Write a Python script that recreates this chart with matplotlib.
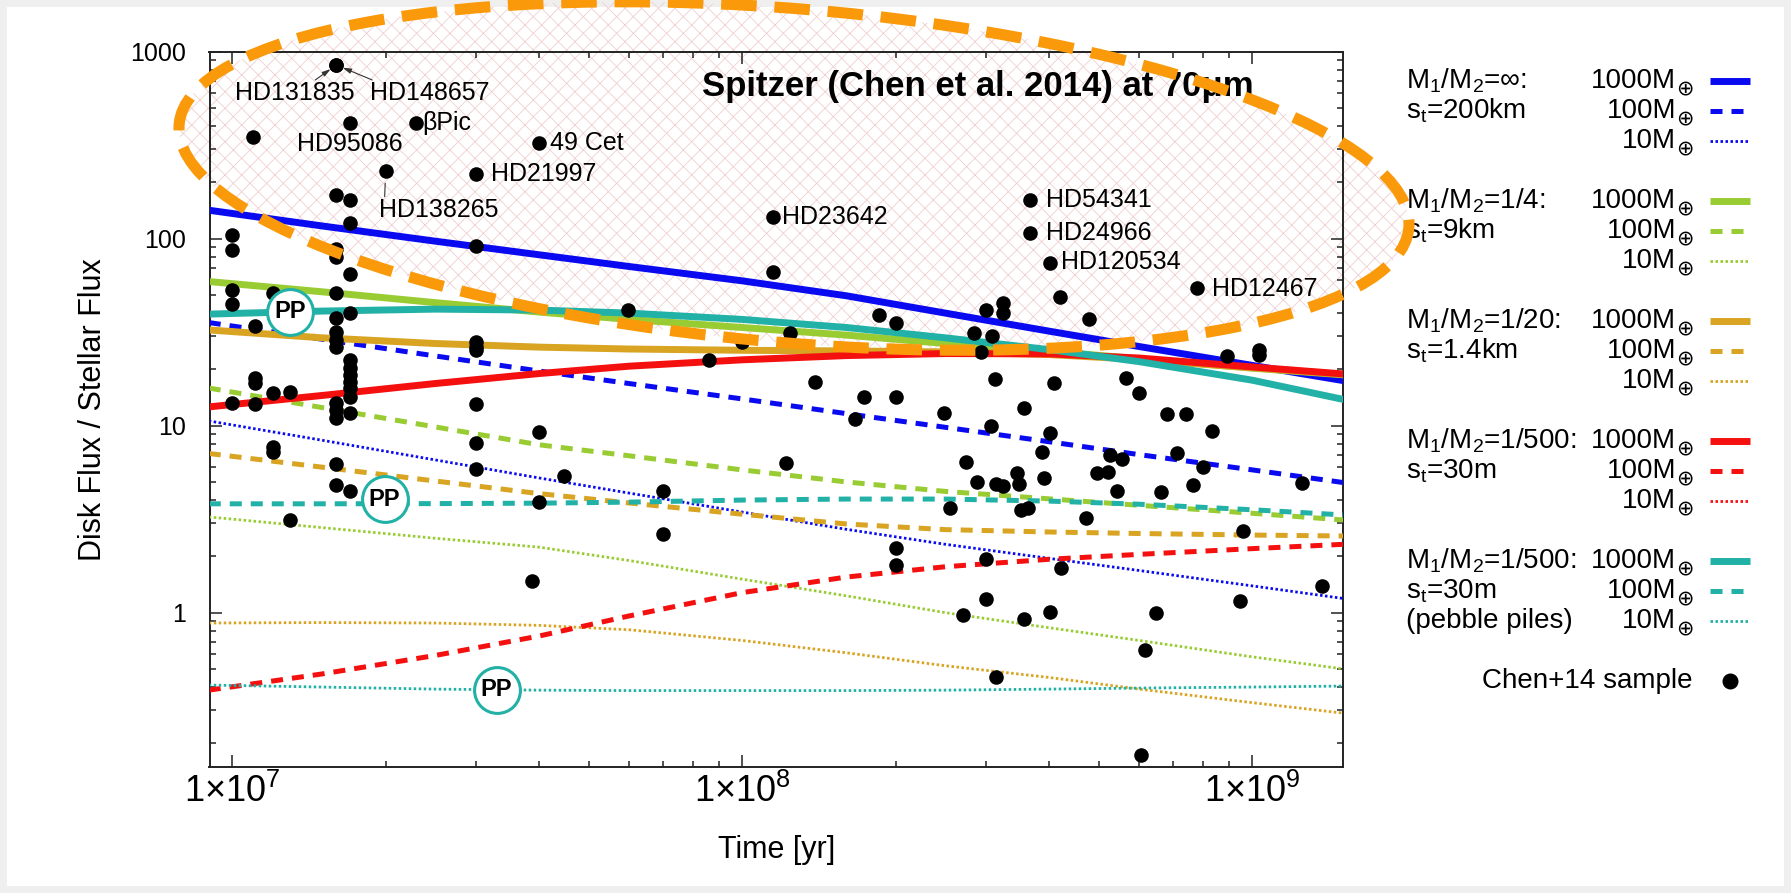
import numpy as np
import matplotlib
matplotlib.use("Agg")
import matplotlib.pyplot as plt
from matplotlib.lines import Line2D
from matplotlib.patches import Ellipse, Rectangle
from matplotlib.ticker import FixedLocator, FixedFormatter, LogLocator, NullFormatter

plt.rcParams['font.family'] = ['Liberation Sans', 'DejaVu Sans']
plt.rcParams['mathtext.fontset'] = 'custom'
plt.rcParams['mathtext.rm'] = 'Liberation Sans'
plt.rcParams['mathtext.it'] = 'Liberation Sans:italic'
plt.rcParams['mathtext.bf'] = 'Liberation Sans:bold'
plt.rcParams['hatch.linewidth'] = 0.6

# ---------------------------------------------------------------- data
# model time grid [yr]
time_grid = [9.0e6, 1.5e7, 2.5e7, 4.0e7, 6.0e7, 1.0e8, 1.6e8, 2.5e8, 4.0e8, 6.0e8, 1.0e9, 1.51e9]

# disk / stellar flux at 70 um; M1/M2 = inf, s_t = 200 km
inf_1000 = [142, 117, 97, 82, 71, 59.5, 49.5, 40, 32, 26.5, 21, 17.4]
inf_100 = [35.6, 29, 23.6, 19.6, 16.8, 13.9, 11.6, 9.8, 8.2, 7.0, 5.8, 4.96]
inf_10 = [10.6, 8.36, 6.56, 5.25, 4.36, 3.45, 2.79, 2.32, 1.95, 1.68, 1.39, 1.19]
# M1/M2 = 1/4, s_t = 9 km
q4_1000 = [59, 52, 45.5, 40.5, 37, 33.5, 30.5, 27.5, 25, 22.8, 20.3, 18.7]
q4_100 = [15.9, 12.5, 9.85, 7.9, 6.9, 5.8, 5.0, 4.45, 4.06, 3.75, 3.4, 3.13]
q4_10 = [3.25, 2.85, 2.5, 2.24, 1.9, 1.51, 1.23, 1.0, 0.83, 0.71, 0.58, 0.50]
# M1/M2 = 1/20, s_t = 1.4 km
q20_1000 = [32.5, 29.5, 27.5, 26.3, 25.7, 25.3, 25.1, 24.8, 24.0, 22.6, 20.4, 18.8]
q20_100 = [7.1, 6.0, 5.06, 4.33, 3.86, 3.36, 2.98, 2.78, 2.70, 2.65, 2.60, 2.57]
q20_10 = [0.88, 0.885, 0.88, 0.855, 0.81, 0.71, 0.61, 0.52, 0.45, 0.39, 0.33, 0.29]
# M1/M2 = 1/500, s_t = 30 m
q500_1000 = [12.6, 14.5, 16.8, 19.0, 20.8, 22.5, 23.7, 24.3, 24.2, 23.0, 20.6, 18.9]
q500_100 = [0.385, 0.47, 0.59, 0.75, 0.96, 1.28, 1.55, 1.76, 1.93, 2.05, 2.2, 2.32]
# M1/M2 = 1/500, s_t = 30 m, pebble piles
pp_1000 = [39.5, 41, 42, 41.5, 40, 37, 33.5, 29.5, 25.5, 22, 17.5, 13.8]
pp_100 = [3.82, 3.82, 3.83, 3.85, 3.9, 4.0, 4.05, 4.05, 3.95, 3.8, 3.55, 3.33]
pp_10 = [0.41, 0.40, 0.39, 0.385, 0.383, 0.383, 0.383, 0.385, 0.39, 0.395, 0.40, 0.405]

# Chen et al. (2014) sample: age [yr], disk/stellar flux
sample_age = [
    1.0e7, 1.0e7, 1.0e7, 1.0e7, 1.0e7,
    1.097e7, 1.109e7, 1.109e7, 1.109e7, 1.109e7,
    1.204e7, 1.204e7, 1.204e7, 1.204e7, 1.30e7, 1.30e7,
    1.6e7, 1.6e7, 1.6e7, 1.6e7, 1.6e7, 1.6e7, 1.6e7, 1.6e7, 1.6e7, 1.6e7,
    1.6e7, 1.6e7, 1.6e7, 1.6e7, 1.6e7,
    1.7e7, 1.7e7, 1.7e7, 1.7e7, 1.7e7, 1.7e7, 1.7e7, 1.7e7, 1.7e7, 1.7e7,
    1.7e7, 1.7e7, 1.7e7,
    2.0e7, 2.29e7,
    3.0e7, 3.0e7, 3.0e7, 3.0e7, 3.0e7, 3.0e7, 3.0e7, 3.0e7,
    4.0e7, 4.0e7, 4.0e7, 3.87e7, 4.48e7, 5.98e7, 7.0e7, 7.0e7,
    8.6e7, 1.0e8, 1.15e8, 1.15e8, 1.24e8, 1.39e8, 1.22e8, 1.66e8, 1.73e8,
    1.85e8, 2.0e8, 2.0e8, 2.0e8, 2.0e8,
    2.49e8, 2.55e8, 2.71e8, 2.75e8, 2.85e8, 2.89e8, 2.94e8, 3.0e8, 3.0e8,
    3.0e8, 3.07e8, 3.09e8, 3.13e8, 3.15e8, 3.15e8, 3.24e8, 3.25e8, 3.25e8,
    3.45e8, 3.49e8, 3.52e8, 3.56e8, 3.56e8, 3.64e8, 3.66e8, 3.66e8, 3.87e8,
    3.9e8, 4.01e8, 4.02e8, 4.02e8, 4.08e8, 4.19e8, 4.22e8, 4.71e8, 4.79e8,
    4.95e8, 5.21e8, 5.27e8, 5.42e8, 5.55e8, 5.66e8, 6.0e8, 6.04e8, 6.15e8,
    6.46e8, 6.62e8, 6.79e8, 7.1e8, 7.41e8, 7.64e8, 7.78e8, 8.0e8, 8.34e8,
    8.93e8, 9.46e8, 9.6e8, 1.03e9, 1.03e9, 1.25e9, 1.37e9,
]
sample_flux = [
    105, 87, 53, 45, 13.2,
    351, 34.1, 17.9, 16.9, 13.1,
    51, 14.9, 7.72, 7.26, 15.2, 3.13,
    849, 849, 171, 88, 80, 51, 37.5, 31.8, 28.7, 26.5,
    13.2, 12.1, 11.0, 6.2, 4.8,
    417, 161, 121, 65, 40, 22.5, 20.3, 18.7, 17.2, 15.9,
    14.3, 11.7, 4.5,
    231, 417,
    222, 91, 28.1, 26.5, 25.4, 13.1, 8.1, 5.85,
    324, 9.2, 3.9, 1.47, 5.4, 41.7, 4.47, 2.65,
    22.5, 28.1, 131, 66.6, 31.4, 17.2, 6.35, 10.8, 14.3,
    39.1, 35.3, 14.3, 2.21, 1.80,
    11.7, 3.64, 0.97, 6.4, 31.2, 5.0, 24.9, 41.6, 1.94,
    1.18, 9.96, 30.2, 17.7, 4.88, 0.455, 4.76, 45.2, 39.9,
    5.6, 4.88, 3.54, 12.4, 0.93, 3.64, 161, 107, 7.26,
    5.27, 9.18, 73.9, 1.01, 16.9, 49, 1.73, 3.2, 37.1,
    5.6, 5.68, 6.97, 4.49, 6.61, 17.9, 14.9, 0.173, 0.63,
    0.99, 4.44, 11.6, 7.12, 11.5, 4.8, 54.3, 6.04, 9.37,
    23.6, 1.15, 2.74, 25.4, 23.9, 4.96, 1.38,
]

# named systems: label, age, flux, text offset [px], alignment
named = [
    ('HD21997', 3.0e7, 222, (15, 0), 'left'),
    ('49 Cet', 4.0e7, 324, (11, 0), 'left'),
    ('\u03b2Pic', 2.29e7, 417, (7, 0), 'left'),
    ('HD95086', 1.7e7, 417, (0, -21), 'center'),
    ('HD138265', 2.0e7, 231, (53, -39), 'center'),
    ('HD131835', 1.6e7, 849, (-41, -28), 'center'),
    ('HD148657', 1.6e7, 849, (94, -28), 'center'),
    ('HD23642', 1.15e8, 131, (9, 0), 'left'),
    ('HD54341', 3.66e8, 161, (16, 0), 'left'),
    ('HD24966', 3.66e8, 107, (16, 0), 'left'),
    ('HD120534', 4.02e8, 73.9, (11, 1), 'left'),
    ('HD12467', 7.78e8, 54.3, (15, -1), 'left'),
]

# "PP" (pebble pile) tags: age, flux
pp_tags = [(1.30e7, 40.7), (1.99e7, 4.05), (3.30e7, 0.386)]

BLUE = '#0a0af0'
GREEN = '#99cc33'
GOLD = '#d8a422'
RED = '#f51010'
TEAL = '#22b1a6'
ORANGE = '#fa9a0a'

W, H = 1791, 893
fig = plt.figure(figsize=(W / 100, H / 100), dpi=100)
fig.patch.set_facecolor('#efefef')
fig.add_artist(Rectangle((7 / W, 7 / H), (W - 14) / W, (H - 14) / H,
                         transform=fig.transFigure, facecolor='white',
                         edgecolor='none', zorder=-3))

ax = fig.add_axes([209.5 / W, 1 - 766.7 / H, (1343.4 - 209.5) / W, (766.7 - 51.7) / H])
ax.patch.set_alpha(0)
ax.set_xscale('log')
ax.set_yscale('log')
ax.set_xlim(9.03e6, 1.508e9)
ax.set_ylim(0.15, 1000)

solid = dict(lw=5.0, ls='-', solid_capstyle='butt')
dashed = dict(lw=3.6, ls=(0, (2.4, 1.8)), dash_capstyle='butt')
dotted = dict(lw=2.0, ls=(0, (0.9, 0.9)), dash_capstyle='butt')

models = [
    (BLUE, inf_1000, inf_100, inf_10),
    (GREEN, q4_1000, q4_100, q4_10),
    (GOLD, q20_1000, q20_100, q20_10),
    (RED, q500_1000, q500_100, None),
    (TEAL, pp_1000, pp_100, pp_10),
]
for color, m1000, m100, m10 in models:
    ax.plot(time_grid, m1000, color=color, zorder=3, **solid)
    ax.plot(time_grid, m100, color=color, zorder=3, **dashed)
    if m10 is not None:
        ax.plot(time_grid, m10, color=color, zorder=3, **dotted)

ax.scatter(sample_age, sample_flux, s=110, color='black', zorder=6, linewidths=0)

# pebble-pile tags
for t, f in pp_tags:
    ax.plot([t], [f], marker='o', ms=33, mfc='white', mec=TEAL, mew=2.2, zorder=7)
    ax.text(t, f, 'PP', ha='center', va='center', fontsize=17, fontweight='bold', zorder=8)

# star names
for name, t, f, (dx, dy), ha in named:
    ax.annotate(name, (t, f), xytext=(dx, dy), textcoords='offset pixels',
                ha=ha, va='center', fontsize=18, zorder=9)

arrow = dict(arrowstyle='-|>,head_length=0.5,head_width=0.15', lw=0.8, color='#333333',
             shrinkA=0, shrinkB=5)
ax.annotate('', (1.6e7, 849), xytext=(-21, -15), textcoords='offset pixels', arrowprops=arrow)
ax.annotate('', (1.6e7, 849), xytext=(36, -15), textcoords='offset pixels', arrowprops=arrow)
ax.annotate('', (2.0e7, 231), xytext=(-1, -26), textcoords='offset pixels',
            arrowprops=dict(arrowstyle='-', lw=0.8, color='#333333', shrinkA=0, shrinkB=9))

ax.text(0.921, 0.952, 'Spitzer (Chen et al. 2014) at 70\u03bcm', transform=ax.transAxes,
        ha='right', va='center', fontsize=25, fontweight='bold', zorder=9)

# axes styling
ax.xaxis.set_major_locator(FixedLocator([1e7, 1e8, 1e9]))
ax.xaxis.set_major_formatter(FixedFormatter([r'1$\times$10$^{7}$', r'1$\times$10$^{8}$',
                                             r'1$\times$10$^{9}$']))
ax.xaxis.set_minor_locator(LogLocator(base=10, subs=np.arange(2, 10)))
ax.xaxis.set_minor_formatter(NullFormatter())
ax.yaxis.set_major_locator(FixedLocator([1, 10, 100, 1000]))
ax.yaxis.set_major_formatter(FixedFormatter(['1', '10', '100', '1000']))
ax.yaxis.set_minor_locator(LogLocator(base=10, subs=np.arange(2, 10)))
ax.yaxis.set_minor_formatter(NullFormatter())
ax.tick_params(which='both', direction='in', top=True, right=True, width=1.1, color='#222222')
ax.tick_params(which='major', length=8.5)
ax.tick_params(which='minor', length=4.5)
ax.tick_params(axis='y', which='major', labelsize=18, pad=17)
ax.tick_params(axis='x', which='major', labelsize=26, pad=5)
for sp in ax.spines.values():
    sp.set_linewidth(1.4)
    sp.set_color('#222222')

ax.set_xlabel('Time [yr]', fontsize=22, va='center')
ax.xaxis.set_label_coords(0.5, (766.7 - 850) / 715)
ax.set_ylabel('Disk Flux / Stellar Flux', fontsize=22, va='center')
ax.yaxis.set_label_coords((93 - 209.5) / 1133.9, 0.5)

# highlighted region: hatched ellipse with dashed orange outline
ell_kw = dict(xy=(7.94, (H - 176) / 100), width=12.34, height=3.34, angle=-4.8,
              transform=fig.dpi_scale_trans)
fig.add_artist(Ellipse(**ell_kw, facecolor='none', edgecolor='#efcfcf', lw=0,
                       hatch='xx', zorder=-2))
fig.add_artist(Ellipse(**ell_kw, facecolor='none', edgecolor=ORANGE, lw=8,
                       ls=(0, (3.2, 1.6)), zorder=10))


# key
def fx(x):
    return x / W


def fy(y):
    return 1 - y / H


group_rows = [88.3, 208.3, 328.3, 448.3, 568.3]
group_text = [
    ['M$_1$/M$_2$=\u221e:', 's$_\\mathrm{t}$=200km'],
    ['M$_1$/M$_2$=1/4:', 's$_\\mathrm{t}$=9km'],
    ['M$_1$/M$_2$=1/20:', 's$_\\mathrm{t}$=1.4km'],
    ['M$_1$/M$_2$=1/500:', 's$_\\mathrm{t}$=30m'],
    ['M$_1$/M$_2$=1/500:', 's$_\\mathrm{t}$=30m', '(pebble piles)'],
]
group_colors = [BLUE, GREEN, GOLD, RED, TEAL]
mass_text = ['1000M', '100M', '10M']
for base, lines, color in zip(group_rows, group_text, group_colors):
    for i, s in enumerate(lines):
        fig.text(fx(1406), fy(base + 30 * i), s, ha='left', va='baseline', fontsize=20)
    for i, (s, st) in enumerate(zip(mass_text, (solid, dashed, dotted))):
        y = base + 30 * i
        fig.text(fx(1676), fy(y), s, ha='right', va='baseline', fontsize=20)
        fig.text(fx(1685), fy(y), '\u2295', ha='center', va='center', fontsize=15,
                 family='DejaVu Sans')
        fig.add_artist(Line2D([fx(1710), fx(1750)], [fy(y - 7)] * 2, color=color,
                              transform=fig.transFigure, **st))
fig.text(fx(1693), fy(688.3), 'Chen+14 sample', ha='right', va='baseline', fontsize=20)
fig.add_artist(Line2D([fx(1730)], [fy(681)], marker='o', ms=10.5, color='black', lw=0,
                      transform=fig.transFigure))

fig.savefig('out.png', dpi=100, facecolor=fig.get_facecolor())
